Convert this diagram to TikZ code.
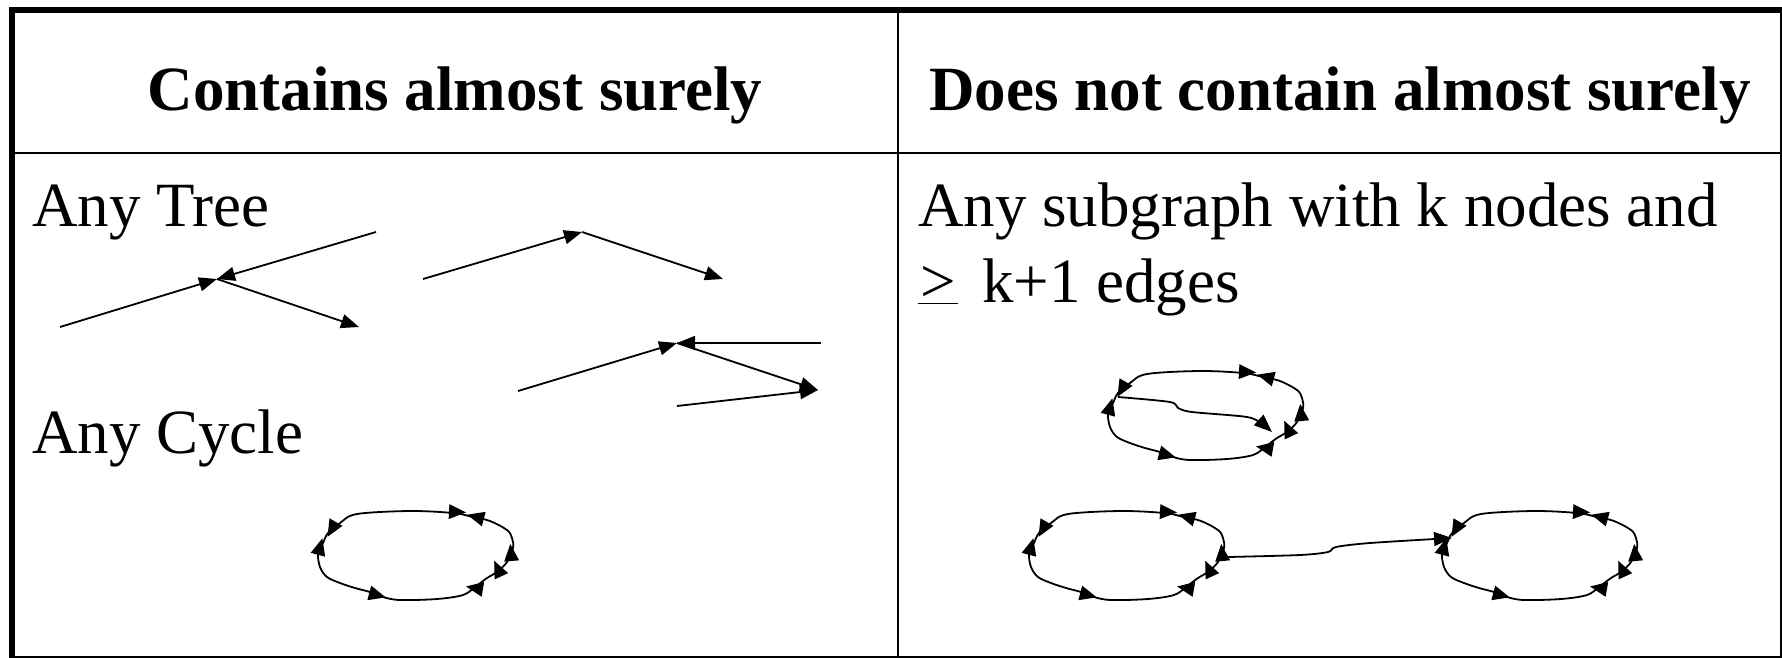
\documentclass[tikz,border=0pt]{standalone}
\usepackage{fontspec}
\setmainfont{Liberation Serif}
\usetikzlibrary{arrows.meta}
\newcommand\cyctri[3]{\fill[shift={(#1,#2)},rotate=#3] (9pt,0pt) -- (-8pt,7.5pt) -- (-8pt,-7.5pt) -- cycle;}
\begin{document}
\begin{tikzpicture}[x=1pt,y=-1pt,
  frame/.style={line width=6pt},
  rule/.style={line width=2pt},
  edge/.style={line width=1.8pt,-{Triangle[length=18pt,width=14pt]}},
  curve/.style={line width=1.8pt},
  head/.style={font=\fontsize{63}{76}\selectfont\bfseries, inner sep=0pt, anchor=base},
  body/.style={font=\fontsize{63}{76}\selectfont, inner sep=0pt, anchor=base west},
  cyc/.pic={
    \draw[curve] plot[smooth cycle, tension=0.55] coordinates {(-87,-22) (-75,-32) (-58,-41) (-5,-44) (38,-42) (58,-38) (75,-34) (92,-25) (97,-17) (98,-7) (92,7) (82,17) (72,23) (60,32) (48,40) (22,44) (-15,45) (-32,42) (-45,37) (-60,33) (-75,28) (-88,22) (-95,12) (-97,-2) (-92,-12)};
    \cyctri{42}{-43}{-3}
    \cyctri{61}{-38}{165}
    \cyctri{96}{-2}{95}
    \cyctri{83}{14}{115}
    \cyctri{60}{33}{170}
    \cyctri{-38}{40}{-15}
    \cyctri{-95}{-8}{75}
    \cyctri{-83}{-26}{240}
  }
]
\useasboundingbox (0,0) rectangle (1782,657);
\fill[white] (0,0) rectangle (1782,657);

% table
\draw[frame] (12,10) rectangle (1783,659);
\draw[rule] (12,153) -- (1782,153);
\draw[rule] (898,10) -- (898,657);

% texts
\node[head] (h1) at (455,110) {Contains almost surely};
\node[head] (h2) at (1340,110) {Does not contain almost surely};
\node[body] (t1) at (32,226) {Any Tree};
\node[body] (t2) at (32,453) {Any Cycle};
\node[body] (t3) at (918,226) {Any subgraph with k nodes and};
\node[body] (t4) at (918,302) {\underline{\hbox to 40pt{\hss>\hss}}\hspace{24pt}k+1 edges};

% trees
\coordinate (a1) at (60,327);
\coordinate (n1) at (217,279);
\coordinate (b1) at (376,232);
\coordinate (c1) at (359,327);
\draw[edge] (a1) -- (n1);
\draw[edge] (b1) -- (n1);
\draw[edge] (n1) -- (c1);

\coordinate (a2) at (423,279);
\coordinate (n2) at (582,232);
\coordinate (c2) at (723,279);
\draw[edge] (a2) -- (n2);
\draw[edge] (n2) -- (c2);

\coordinate (a3) at (518,391);
\coordinate (n3) at (677,343);
\coordinate (b3) at (821,343);
\coordinate (c3) at (818,390);
\coordinate (d3) at (677,406);
\draw[edge] (a3) -- (n3);
\draw[edge] (b3) -- (n3);
\draw[edge] (n3) -- (c3);
\draw[edge] (d3) -- (c3);

% cycles
\pic at (415,555) {cyc};
\pic at (1205,415) {cyc};
\pic at (1126,555) {cyc};
\pic at (1539,555) {cyc};

% chord in the upper right cycle
\coordinate (k1) at (1118,397);
\coordinate (k2) at (1272,432);
\draw[edge] plot[smooth, tension=0.5] coordinates {(k1) (1170,402) (1178,408) (1192,412) (1247,417) (1262,424) (k2)};

% connector between the two lower right cycles
\coordinate (p1) at (1228,557);
\coordinate (p2) at (1452,538);
\draw[edge] plot[smooth, tension=0.5] coordinates {(p1) (1300,555) (1328,552) (1336,547) (1370,543) (p2)};
\end{tikzpicture}
\end{document}
